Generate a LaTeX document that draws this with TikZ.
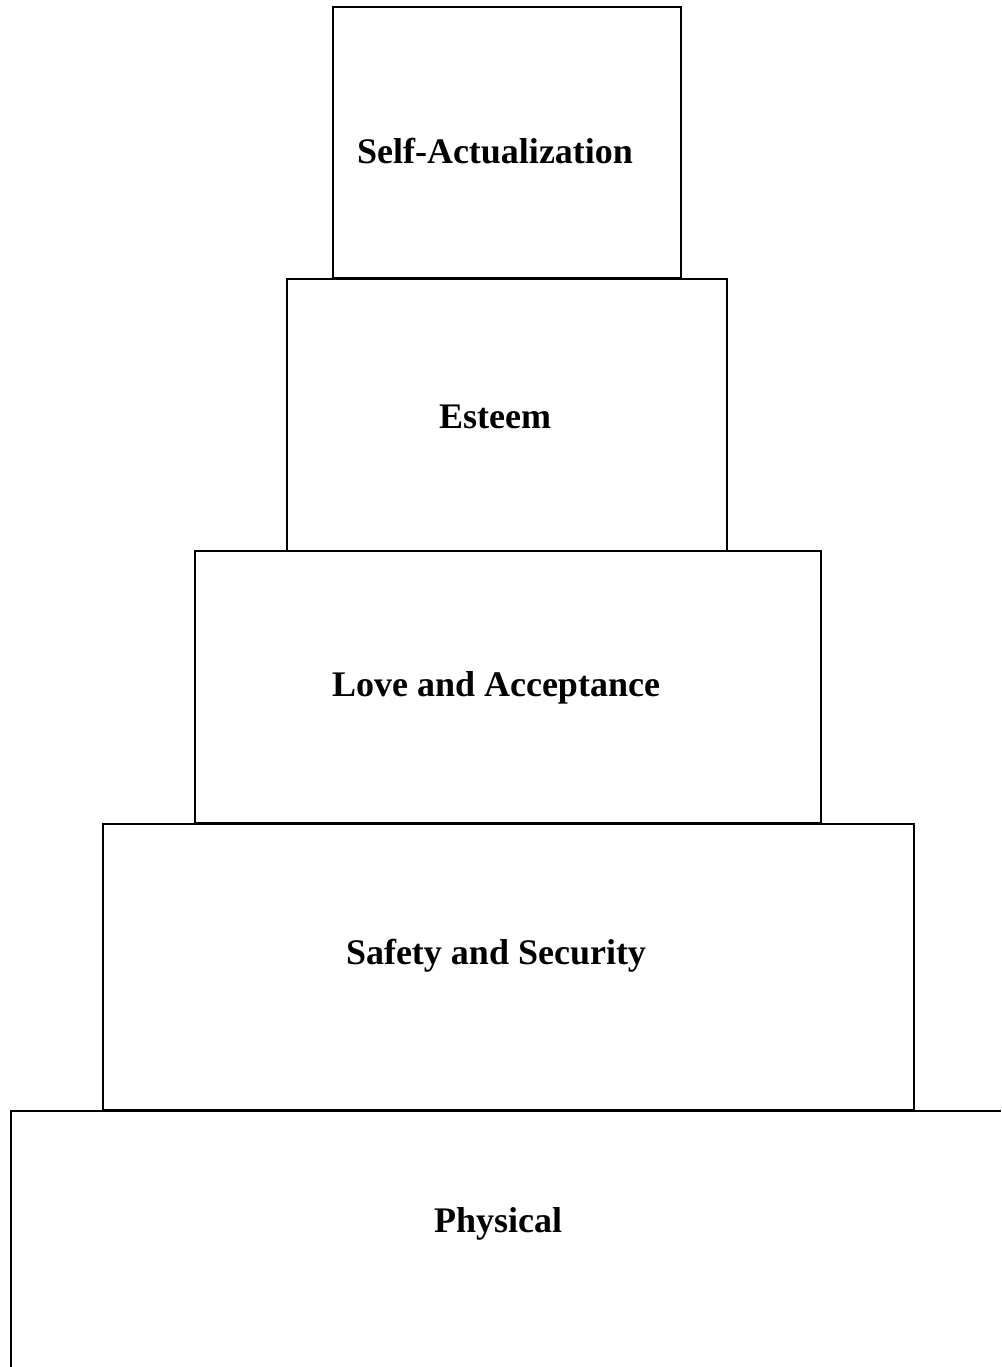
\documentclass[tikz,border=0pt]{standalone}
\usepackage{fontspec}
\setmainfont{Liberation Serif}
\begin{document}
\begin{tikzpicture}[x=1pt,y=-1pt,
  tier/.style={draw=black,line width=2.2pt},
  lbl/.style={font=\fontsize{36}{40}\selectfont\bfseries,inner sep=0pt,anchor=center}]
\useasboundingbox (0,0) rectangle (1001,1367);
\fill[white] (0,0) rectangle (1001,1367);
\draw[tier] (333,7) rectangle (681,278);
\draw[tier] (287,279) rectangle (727,551);
\draw[tier] (195,551) rectangle (821,823);
\draw[tier] (103,824) rectangle (914,1110);
\draw[tier] (11,1367) -- (11,1111) -- (1001,1111);
\node[lbl] (sa) at (495,151) {Self-Actualization};
\node[lbl] (es) at (495,417) {Esteem};
\node[lbl] (la) at (496,688) {Love and Acceptance};
\node[lbl] (ss) at (496,956) {Safety and Security};
\node[lbl] (ph) at (498,1224) {Physical};
\end{tikzpicture}
\end{document}
